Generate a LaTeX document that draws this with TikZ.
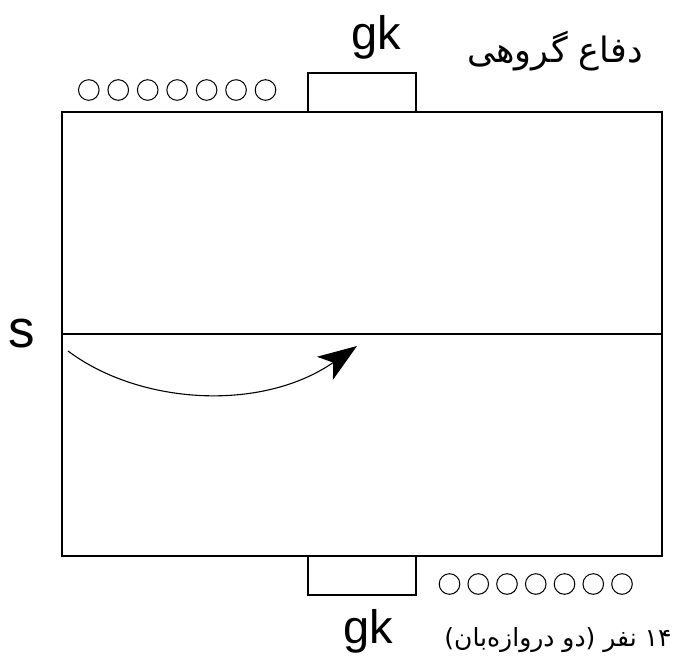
\documentclass[tikz,border=0pt]{standalone}
\usepackage{fontspec}
\setmainfont{Liberation Sans}
\newfontfamily\arabicfont[Script=Arabic]{DejaVu Sans}
\TeXXeTstate=1
\usetikzlibrary{arrows.meta}
\tikzset{
  field/.style={draw=black, line width=1.2pt},
  player/.style={circle, draw=black, line width=1pt, minimum size=20.6pt, inner sep=0pt},
  latinlabel/.style={anchor=base, inner sep=0pt, text=black},
  farsilabel/.style={anchor=base, inner sep=0pt, text=black},
  movearrow/.style={line width=1.1pt, -{Stealth[length=39pt,width=28pt,inset=10pt]}}
}
\begin{document}
\begin{tikzpicture}[x=1pt,y=-1pt]
\useasboundingbox (0,0) rectangle (675,659);
% field
\coordinate (fTL) at (62,112);
\coordinate (fBR) at (662,556);
\coordinate (mL) at (62,334);
\coordinate (mR) at (662,334);
\draw[field] (fTL) rectangle (fBR);
\draw[field] (mL) -- (mR);
% goals
\coordinate (gtA) at (308,112);
\coordinate (gtB) at (416,73);
\coordinate (gbA) at (308,556);
\coordinate (gbB) at (416,595);
\draw[field] (gtA) rectangle (gtB);
\draw[field] (gbA) rectangle (gbB);
% players
\foreach \i in {0,...,6} {
  \node[player] (tp\i) at ({88.8+29.45*\i},90) {};
  \node[player] (bp\i) at ({449.5+28.75*\i},584) {};
}
% labels
\node[latinlabel, font=\fontsize{47}{50}\selectfont] (gkTop) at (376,49) {gk};
\node[latinlabel, font=\fontsize{47}{50}\selectfont] (gkBot) at (368,643) {gk};
\node[latinlabel, font=\fontsize{53}{56}\selectfont] (s) at (22,347) {s};
\node[farsilabel, font=\arabicfont\fontsize{35}{38}\selectfont] (defense) at (555,62) {\beginR دفاع گروهی\endR};
\node[farsilabel, font=\arabicfont\fontsize{25}{28}\selectfont] (count) at (558,646) {\beginR ۱۴ نفر (دو دروازه‌بان)\endR};
% arrow
\coordinate (aS) at (68,351);
\coordinate (aE) at (357,346);
\draw[movearrow] (aS) .. controls (140,405) and (262,412) .. (aE);
\end{tikzpicture}
\end{document}
